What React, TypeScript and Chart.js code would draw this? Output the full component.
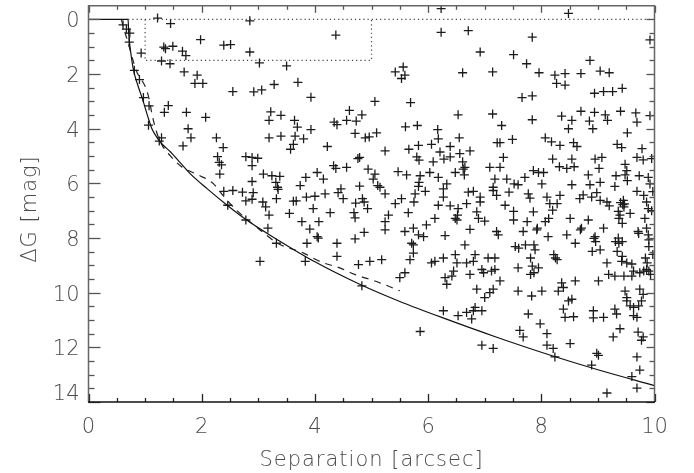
import { useEffect, useRef } from "react";
import { Chart, registerables } from "chart.js";

Chart.register(...registerables);

// Companion sources: projected separation (arcsec) and magnitude difference ΔG (mag)
const separation = [
  1.22, 1.45, 2.85, 4.37, 1.98, 2.39, 2.51, 1.33, 1.36, 1.49, 0.93, 1.66, 1.72, 2.85, 1.29, 1.44, 3.02, 3.5, 0.61, 0.67,
  0.73, 0.72, 0.81, 0.9, 1.69, 1.92, 1.88, 2.02, 2.55, 2.92, 3.06, 3.28, 3.7, 3.93, 5.06, 0.97, 1.07, 1.41, 1.34, 1.73,
  2.07, 3.22, 3.4, 3.19, 3.64, 3.69, 3.93, 4.61, 4.56, 4.73, 4.83, 4.34, 4.39, 1.06, 1.76, 1.81, 2.26, 2.38, 1.67, 1.29,
  1.25, 3.19, 3.4, 3.65, 3.8, 3.62, 3.57, 4.22, 4.71, 4.89, 4.96, 5.09, 2.28, 2.31, 2.35, 2.32, 2.78, 2.89, 2.99, 2.89,
  3.09, 3.24, 3.38, 2.89, 3.31, 3.34, 3.35, 2.39, 2.55, 2.72, 2.91, 2.78, 2.89, 3.08, 3.13, 3.19, 2.46, 3.32, 3.55, 3.62,
  3.67, 3.74, 3.84, 4.04, 4.15, 3.85, 4.0, 4.18, 3.97, 3.77, 4.07, 4.27, 4.46, 4.41, 4.5, 4.33, 4.37, 4.56, 4.76, 4.79,
  4.94, 5.06, 5.03, 5.11, 4.79, 4.72, 4.84, 4.87, 4.93, 4.69, 4.71, 3.17, 3.91, 4.04, 4.06, 4.87, 4.71, 2.78,
  6.23, 8.48, 6.23, 6.71, 7.84, 9.92, 6.92, 7.51, 7.74, 8.86, 5.42, 5.56, 5.53, 5.59, 6.61, 7.14, 7.96, 8.24, 8.42, 8.27,
  8.42, 8.7, 9.04, 9.2, 7.66, 7.84, 8.94, 9.1, 9.26, 9.43, 5.69, 6.53, 7.14, 7.3, 7.84, 8.36, 8.54, 8.48, 8.7, 8.94,
  9.13, 9.17, 8.85, 8.91, 9.4, 9.67, 9.69, 9.52, 9.92, 5.6, 5.81, 6.17, 6.18, 6.06, 6.55, 7.22, 7.27, 7.49, 8.07, 8.18,
  8.33, 8.57, 8.63, 9.34, 9.42, 9.78, 5.24, 5.66, 5.83, 5.8, 6.21, 6.39, 6.39, 6.56, 6.74, 6.61, 6.65, 6.09, 6.28, 5.84,
  7.33, 8.2, 8.32, 8.45, 8.58, 8.54, 8.95, 9.07, 9.02, 9.48, 9.51, 9.69, 9.8, 9.95, 5.47, 5.62, 5.86, 5.84, 5.83, 6.03,
  6.18, 6.48, 6.62, 6.64, 7.09, 7.27, 7.18, 7.15, 7.39, 7.52, 7.59, 7.71, 7.86, 7.95, 8.04, 8.01, 8.54, 8.83, 8.86, 9.04,
  9.32, 9.48, 9.52, 9.73, 9.89, 9.92, 9.3, 9.69, 5.15, 5.24, 5.42, 5.53, 5.77, 5.75, 5.95, 6.27, 6.27, 6.71, 6.8, 6.92,
  6.92, 7.15, 7.21, 7.43, 7.77, 7.8, 8.1, 8.33, 8.68, 8.74, 8.89, 8.98, 9.04, 9.16, 9.2, 9.45, 9.44, 9.46, 9.81, 9.86,
  9.89, 6.18, 6.39, 6.53, 6.52, 6.68, 5.65, 5.3, 5.24, 5.24, 6.86, 6.89, 7.0, 7.36, 7.51, 7.51, 7.86, 8.15, 8.2, 8.51,
  8.83, 9.36, 9.39, 9.57, 5.97, 6.3, 5.59, 5.74, 5.83, 5.92, 6.74, 7.21, 7.24, 7.68, 7.92, 8.12, 8.45, 8.71, 8.95, 9.1,
  9.36, 9.71, 9.86, 9.89,
  6.27, 6.51, 6.45, 6.42, 6.68, 6.83, 6.8, 6.65, 6.74, 6.95, 6.98, 7.12, 7.18, 7.06, 7.18, 6.86, 7.0, 7.09, 7.15, 7.27,
  7.59, 7.59, 7.81, 7.84, 7.87, 7.81, 7.95, 7.83, 8.01, 8.22, 8.25, 8.28, 8.36, 8.39, 8.48, 8.54, 8.3, 8.6, 8.39, 8.42,
  8.57, 8.92, 8.92, 9.1, 9.01, 9.3, 9.16, 9.42, 9.51, 9.63, 9.74, 9.86, 9.48, 9.51, 9.63, 9.77, 9.74, 9.8, 9.3, 9.33,
  9.63, 9.69, 9.39, 9.27, 9.71, 9.77, 9.8, 7.62, 7.68, 7.98, 8.1, 8.1, 8.21, 8.24, 8.51, 7.77, 6.95, 7.15, 8.98, 9.01,
  8.89, 9.69, 9.74, 9.6, 9.69, 9.16, 6.27, 6.53, 6.68, 6.8, 6.77, 6.83, 6.95,
  3.03, 3.32, 3.86, 3.83, 4.39, 4.39, 4.77, 4.97, 5.18, 4.83, 5.5, 5.59, 5.68, 5.74, 5.74, 6.06, 6.12, 6.3, 6.33, 5.86,
  5.71, 6.48,
  7.54, 7.6, 7.72, 7.87, 7.89, 8.6, 8.69, 8.93, 8.96, 8.9, 9.04, 9.19, 9.31, 9.37, 9.43, 9.34, 9.43, 9.6, 9.46, 9.6,
  9.72, 9.84, 9.87, 9.81, 9.9, 9.93, 9.51, 9.57, 9.72, 9.9, 9.9,
  6.33, 6.48, 6.51, 6.12, 7.75, 7.93, 8.07, 8.13, 9.37, 9.43, 8.28, 9.83, 9.95, 9.97, 9.97, 9.4, 9.47,
];

const deltaG = [
  -0.05, 0.15, 0.05, 0.57, 0.74, 0.94, 0.92, 1.01, 1.07, 0.98, 1.23, 1.16, 1.32, 1.19, 1.52, 1.62, 1.59, 1.7, 0.2, 0.35,
  0.5, 0.83, 1.86, 2.2, 1.92, 2.04, 2.34, 2.34, 2.64, 2.65, 2.58, 2.38, 2.3, 2.85, 3.0, 2.86, 3.16, 3.15, 3.4, 3.4,
  3.58, 3.38, 3.51, 3.69, 3.69, 3.94, 4.03, 3.33, 3.69, 3.72, 3.49, 3.76, 3.85, 3.87, 4.0, 4.33, 4.33, 4.69, 4.63, 4.33,
  4.45, 4.33, 4.27, 4.27, 4.37, 4.57, 4.75, 4.65, 4.17, 4.33, 4.3, 4.15, 5.02, 5.23, 5.32, 5.66, 5.02, 5.05, 5.08, 5.35,
  5.66, 5.72, 5.74, 5.93, 5.96, 6.14, 6.22, 6.29, 6.26, 6.32, 6.34, 6.64, 6.58, 6.68, 6.86, 7.16, 6.8, 6.56, 7.1, 6.65,
  6.64, 6.08, 5.78, 5.6, 5.84, 6.5, 6.47, 6.38, 6.92, 7.4, 7.4, 7.07, 6.2, 6.34, 6.56, 5.35, 5.45, 5.41, 5.09, 5.05,
  5.48, 5.66, 5.84, 6.08, 6.1, 6.72, 6.56, 6.68, 6.92, 7.07, 7.26, 7.64, 7.67, 7.95, 8.0, 7.79, 8.03, 7.34,
  -0.4, -0.22, 0.47, 0.41, 0.65, 0.75, 1.19, 1.29, 1.62, 1.5, 1.92, 1.74, 2.16, 2.04, 1.95, 1.92, 1.95, 2.04, 1.98, 2.34,
  2.4, 1.98, 1.89, 1.95, 2.86, 2.8, 2.7, 2.64, 2.64, 2.52, 3.04, 3.49, 3.46, 3.88, 3.67, 3.54, 3.69, 4.0, 3.36, 3.4,
  3.49, 3.69, 3.72, 4.0, 3.36, 3.42, 3.76, 4.15, 3.52, 3.93, 3.88, 4.03, 4.37, 4.57, 4.33, 4.51, 4.51, 4.39, 4.33, 4.48,
  4.61, 4.51, 4.65, 4.57, 4.69, 4.73, 4.81, 4.75, 4.61, 5.03, 4.85, 4.65, 5.03, 4.91, 4.81, 5.21, 5.41, 5.21, 5.11, 5.15,
  5.05, 5.11, 5.39, 5.45, 5.39, 5.11, 5.11, 5.05, 5.45, 5.3, 5.53, 5.05, 5.14, 5.09, 5.57, 5.69, 5.72, 5.96, 6.11, 5.6,
  5.78, 5.6, 5.48, 5.69, 5.41, 5.41, 5.84, 6.14, 5.84, 6.02, 6.05, 5.78, 5.53, 5.6, 5.6, 6.02, 6.05, 5.69, 6.05, 5.96,
  5.72, 5.69, 5.9, 5.72, 5.78, 6.02, 6.11, 6.29, 6.14, 6.38, 6.74, 6.56, 6.38, 6.68, 6.29, 6.2, 6.5, 6.32, 6.29, 6.5,
  6.68, 6.26, 6.44, 6.32, 6.38, 6.54, 6.5, 6.44, 6.56, 6.42, 6.5, 6.34, 6.62, 6.68, 6.82, 6.62, 6.78, 6.86, 6.44, 6.68,
  6.92, 6.8, 6.82, 6.92, 7.16, 6.74, 7.07, 7.16, 7.4, 7.7, 7.04, 7.28, 7.38, 6.8, 7.02, 7.34, 7.04, 6.74, 6.98, 7.28,
  7.34, 7.02, 7.16, 7.1, 7.52, 7.91, 7.76, 7.64, 7.88, 7.95, 7.68, 7.76, 7.88, 7.76, 7.7, 7.95, 7.88, 7.64, 7.95, 7.64,
  8.0, 7.76, 7.64, 7.88,
  8.73, 8.91, 9.21, 9.39, 8.91, 8.61, 8.85, 8.25, 9.33, 9.15, 9.27, 9.21, 9.15, 8.73, 8.73, 9.87, 10.18, 10.0, 9.87, 9.57,
  9.94, 9.09, 8.73, 9.03, 9.27, 9.33, 9.09, 10.12, 9.94, 8.61, 8.73, 8.79, 9.64, 9.81, 10.3, 10.24, 9.94, 9.57, 10.6, 10.9,
  10.88, 10.66, 10.92, 10.9, 9.57, 9.39, 8.91, 8.85, 8.91, 9.21, 9.27, 9.15, 9.94, 10.3, 10.54, 10.3, 9.87, 10.06, 10.6, 10.78,
  10.84, 10.9, 11.32, 11.62, 11.44, 11.74, 11.62, 11.38, 11.62, 11.14, 11.5, 11.92, 12.04, 12.35, 11.86, 10.78, 11.92, 12.04, 12.22, 12.29,
  12.65, 12.35, 12.83, 13.07, 13.49, 13.67, 10.66, 10.84, 10.72, 10.66, 10.96, 10.54, 10.66,
  8.85, 8.19, 8.19, 8.85, 8.19, 8.67, 8.97, 8.85, 8.79, 9.75, 9.45, 9.27, 8.79, 8.55, 8.25, 8.91, 8.85, 9.45, 9.69, 11.42,
  8.19, 8.61,
  8.31, 8.37, 8.25, 8.25, 8.43, 8.19, 7.7, 8.01, 8.13, 8.49, 8.43, 9.33, 8.13, 8.19, 8.13, 8.49, 8.67, 8.95, 9.39, 9.39,
  7.83, 8.73, 8.91, 9.21, 9.21, 9.33, 10.18, 10.48, 10.48, 8.07, 8.31,
  6.02, 7.28, 7.34, 7.28, 7.4, 7.64, 7.4, 7.28, 7.28, 7.46, 6.74, 7.28, 7.0, 6.3, 8.6, 6.7, 6.75,
];

// Sensitivity limits: full curve and dashed curve
const limitSep = [0, 0.7, 0.71, 0.74, 0.79, 0.87, 0.96, 1.04, 1.12, 1.22, 1.32, 1.45, 1.56, 1.8, 2.1, 2.45, 2.8, 3.33, 4.0, 4.8, 5.5, 6.3, 7.2, 8.15, 9.0, 10];
const limitDG = [0, 0, 0.5, 1.1, 1.8, 2.4, 2.95, 3.5, 4.0, 4.35, 4.6, 4.85, 5.1, 5.65, 6.2, 6.8, 7.35, 8.05, 8.87, 9.7, 10.32, 10.95, 11.62, 12.28, 12.82, 13.4];

const altLimitSep = [0.58, 0.64, 0.7, 0.78, 0.86, 0.95, 1.03, 1.08, 1.12, 1.2, 1.3, 1.45, 1.65, 1.95, 2.2, 2.4, 2.6, 3.0, 3.35, 3.8, 4.1, 4.45, 4.7, 5.1, 5.5];
const altLimitDG = [0, 0.45, 0.85, 1.45, 1.95, 2.25, 2.6, 3.0, 3.45, 4.1, 4.6, 5.0, 5.4, 5.7, 6.0, 6.5, 6.95, 7.65, 8.2, 8.55, 8.87, 9.1, 9.33, 9.6, 9.93];

// Dotted selection box and zero line
const boxSep = [1, 1, 5, 5];
const boxDG = [0, 1.5, 1.5, 0];
const zeroSep = [0.7, 10];
const zeroDG = [0, 0];

const xTickValues = [0, 2, 4, 6, 8, 10];
const yTickValues = [0, 2, 4, 6, 8, 10, 12, 14];
const minorStep = 0.5;

const pts = (xs: number[], ys: number[]) => xs.map((x, i) => ({ x, y: ys[i] }));

const FONT = '"DejaVu Sans", "Liberation Sans", sans-serif';

const framePlugin = {
  id: "frameTicks",
  afterDraw(chart: any) {
    const { ctx, chartArea: a, scales } = chart;
    const xs = scales.x;
    const ys = scales.y;
    ctx.save();
    ctx.lineWidth = 1.3;

    // x ticks (bottom and top, pointing inward)
    for (let v = 0; v <= 10.0001; v += minorStep) {
      const px = Math.round(xs.getPixelForValue(v)) + 0.5;
      const major = xTickValues.some((t) => Math.abs(t - v) < 1e-6);
      ctx.strokeStyle = "#222";
      ctx.beginPath();
      ctx.moveTo(px, a.bottom);
      ctx.lineTo(px, a.bottom - (major ? 8 : 4));
      ctx.stroke();
      ctx.strokeStyle = "#555";
      ctx.beginPath();
      ctx.moveTo(px, a.top);
      ctx.lineTo(px, a.top + (major ? 7 : 4));
      ctx.stroke();
    }
    // y ticks (left and right, pointing inward)
    for (let v = 0; v <= 14.0001; v += minorStep) {
      const py = Math.round(ys.getPixelForValue(v)) + 0.5;
      const major = yTickValues.some((t) => Math.abs(t - v) < 1e-6);
      ctx.strokeStyle = "#555";
      ctx.beginPath();
      ctx.moveTo(a.left, py);
      ctx.lineTo(a.left + (major ? 12 : 6), py);
      ctx.stroke();
      ctx.beginPath();
      ctx.moveTo(a.right, py);
      ctx.lineTo(a.right - (major ? 8 : 5), py);
      ctx.stroke();
    }

    // frame
    ctx.lineWidth = 1.5;
    ctx.strokeStyle = "#666";
    ctx.beginPath();
    ctx.moveTo(a.left, a.bottom);
    ctx.lineTo(a.left, a.top);
    ctx.lineTo(a.right, a.top);
    ctx.lineTo(a.right, a.bottom);
    ctx.stroke();
    ctx.strokeStyle = "#111";
    ctx.beginPath();
    ctx.moveTo(a.left - 0.5, a.bottom);
    ctx.lineTo(a.right + 0.5, a.bottom);
    ctx.stroke();

    // tick labels
    ctx.fillStyle = "#4a4a4a";
    ctx.font = `200 21px ${FONT}`;
    ctx.textAlign = "center";
    ctx.textBaseline = "middle";
    xTickValues.forEach((v) => {
      ctx.fillText(String(v), xs.getPixelForValue(v), a.bottom + 26);
    });
    ctx.textAlign = "right";
    yTickValues.forEach((v) => {
      const py = Math.min(ys.getPixelForValue(v) + 2.5, a.bottom - 7);
      ctx.fillText(String(v), a.left - 9, py);
    });

    // axis titles
    ctx.textAlign = "center";
    (ctx as any).letterSpacing = "1px";
    ctx.fillText("Separation [arcsec]", (a.left + a.right) / 2, a.bottom + 59);
    ctx.save();
    ctx.translate(31, 209);
    ctx.rotate(-Math.PI / 2);
    ctx.fillText("\u0394G [mag]", 0, 0);
    ctx.restore();

    ctx.restore();
  },
};

export default function App() {
  const canvasRef = useRef<HTMLCanvasElement | null>(null);

  useEffect(() => {
    const canvas = canvasRef.current;
    if (!canvas) return;
    const chart = new Chart(canvas, {
      type: "scatter",
      data: {
        datasets: [
          {
            label: "zero",
            data: pts(zeroSep, zeroDG),
            showLine: true,
            pointRadius: 0,
            borderColor: "#444",
            borderWidth: 1.2,
            borderDash: [1.2, 3],
          },
          {
            label: "box",
            data: pts(boxSep, boxDG),
            showLine: true,
            pointRadius: 0,
            borderColor: "#444",
            borderWidth: 1.2,
            borderDash: [1.2, 3],
          },
          {
            label: "limit",
            data: pts(limitSep, limitDG),
            showLine: true,
            pointRadius: 0,
            borderColor: "#111",
            borderWidth: 1.2,
            cubicInterpolationMode: "monotone",
          },
          {
            label: "alt limit",
            data: pts(altLimitSep, altLimitDG),
            showLine: true,
            pointRadius: 0,
            borderColor: "#222",
            borderWidth: 1.2,
            borderDash: [7, 6],
            cubicInterpolationMode: "monotone",
          },
          {
            label: "sources",
            data: pts(separation, deltaG),
            pointStyle: "cross",
            pointRadius: 4.5,
            pointHoverRadius: 4.5,
            borderWidth: 1.3,
            borderColor: "#1c1c1c",
            backgroundColor: "#1c1c1c",
          },
        ],
      },
      options: {
        responsive: false,
        animation: false,
        events: [],
        layout: { padding: { left: 0, right: 39.5, top: 2, bottom: 0 } },
        plugins: { legend: { display: false }, tooltip: { enabled: false } },
        scales: {
          x: {
            type: "linear",
            min: 0,
            max: 10,
            grid: { display: false },
            border: { display: false },
            ticks: { display: false },
            afterFit: (s: any) => {
              s.height = 71;
            },
          },
          y: {
            type: "linear",
            min: -0.5,
            max: 14,
            reverse: true,
            grid: { display: false },
            border: { display: false },
            ticks: { display: false },
            afterFit: (s: any) => {
              s.width = 88.5;
            },
          },
        },
      },
      plugins: [framePlugin],
    });
    return () => chart.destroy();
  }, []);

  return (
    <div style={{ position: "fixed", left: 0, top: 0, width: 694, height: 473, background: "#fff" }}>
      <canvas ref={canvasRef} width={694} height={473} style={{ display: "block" }} />
    </div>
  );
}
